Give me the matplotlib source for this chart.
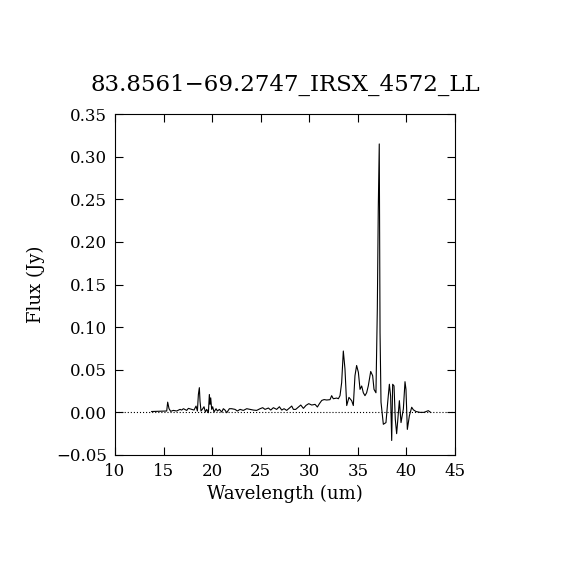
import matplotlib
matplotlib.use("Agg")
import matplotlib.pyplot as plt

title = "83.8561\u221269.2747_IRSX_4572_LL"

wavelength = [13.77, 14.3, 14.8, 15.32, 15.42, 15.56, 15.73, 16.0, 16.35, 16.69, 16.86,
              17.04, 17.38, 17.55, 17.89, 18.13, 18.34, 18.48, 18.58, 18.68, 18.75, 18.85,
              19.03, 19.16, 19.3, 19.44, 19.61, 19.71, 19.78, 19.85, 19.95, 20.05, 20.19,
              20.4, 20.54, 20.74, 20.98, 21.15, 21.32, 21.5, 21.77, 22.01, 22.35, 22.6,
              22.87, 23.21, 23.56, 23.9, 24.24, 24.58, 24.93, 25.2, 25.44, 25.79, 26.03,
              26.3, 26.64, 26.92, 27.16, 27.4, 27.67, 27.95, 28.19, 28.36, 28.6, 28.88,
              29.12, 29.39, 29.66, 29.94, 30.25, 30.59, 30.83, 31.04, 31.28, 31.52, 31.79,
              32.13, 32.3, 32.47, 32.82, 32.99, 33.16, 33.33, 33.5, 33.67, 33.85, 34.08,
              34.36, 34.53, 34.7, 34.87, 35.05, 35.22, 35.39, 35.56, 35.73, 35.9, 36.07,
              36.32, 36.52, 36.66, 36.86, 37.0, 37.1, 37.17, 37.2, 37.28, 37.38, 37.62,
              37.89, 38.07, 38.24, 38.37, 38.48, 38.58, 38.72, 38.85, 38.99, 39.27, 39.44,
              39.68, 39.85, 39.95, 40.09, 40.3, 40.54, 40.71, 40.98, 41.39, 41.8, 42.25, 42.49]

flux = [0.001, 0.0012, 0.0014, 0.0016, 0.012, 0.0043, 0.0012, 0.0023, 0.0016, 0.0035, 0.0027,
        0.0043, 0.0023, 0.0047, 0.0035, 0.0027, 0.0074, 0.0016, 0.021, 0.029, 0.013, 0.0016,
        0.0043, 0.0066, 0.0004, 0.0035, -0.0004, 0.021, 0.0094, 0.017, 0.0035, 0.0066, 0.0004,
        0.0043, 0.0016, 0.0035, 0.0004, 0.0043, 0.0027, -0.0004, 0.0043, 0.0043, 0.0035, 0.0016,
        0.0035, 0.0023, 0.0043, 0.0035, 0.0027, 0.0023, 0.0043, 0.0055, 0.0035, 0.0051, 0.0027,
        0.0055, 0.0035, 0.0066, 0.0027, 0.0043, 0.0023, 0.0051, 0.0074, 0.0035, 0.0035, 0.0063,
        0.0086, 0.0047, 0.0082, 0.0102, 0.0086, 0.0094, 0.0063, 0.0102, 0.014, 0.015, 0.0145,
        0.0149, 0.0196, 0.016, 0.0168, 0.016, 0.0196, 0.035, 0.072, 0.051, 0.008, 0.0176,
        0.0137, 0.008, 0.043, 0.055, 0.047, 0.027, 0.031, 0.023, 0.0196, 0.023, 0.031,
        0.048, 0.043, 0.027, 0.023, 0.121, 0.24, 0.289, 0.315, 0.094, 0.012, -0.014,
        -0.012, 0.012, 0.033, 0.019, -0.033, 0.033, 0.031, -0.008, -0.025, 0.0137, -0.012,
        0.004, 0.036, 0.027, -0.02, -0.004, 0.006, 0.003, 0.001, 0.0, 0.0, 0.002, 0.0]

plt.rcParams['font.family'] = 'DejaVu Serif'

fig = plt.figure(figsize=(5.7, 5.7), dpi=100)
ax = fig.add_axes([0.2018, 0.2018, 0.5965, 0.598])

ax.plot(wavelength, flux, color='black', linewidth=0.8)
ax.axhline(0.0, color='black', linewidth=0.8, linestyle=(0, (1, 1.75)))

ax.set_xlim(10, 45)
ax.set_ylim(-0.05, 0.35)
ax.set_xticks([10, 15, 20, 25, 30, 35, 40, 45])
ax.set_yticks([-0.05, 0, 0.05, 0.1, 0.15, 0.2, 0.25, 0.3, 0.35])
ax.set_yticklabels(['\u22120.05', '0.00', '0.05', '0.10', '0.15', '0.20', '0.25', '0.30', '0.35'])
ax.tick_params(direction='in', top=True, right=True, length=5.5, width=0.8, labelsize=12)
ax.tick_params(axis='x', pad=6)
ax.tick_params(axis='y', pad=6)
for sp in ax.spines.values():
    sp.set_linewidth(0.8)

ax.set_xlabel('Wavelength (um)', fontsize=13, labelpad=3)
ax.set_ylabel('Flux (Jy)', fontsize=13, labelpad=8)
ax.set_title(title, fontsize=16.5, pad=17)

plt.savefig("out.png", dpi=100)
